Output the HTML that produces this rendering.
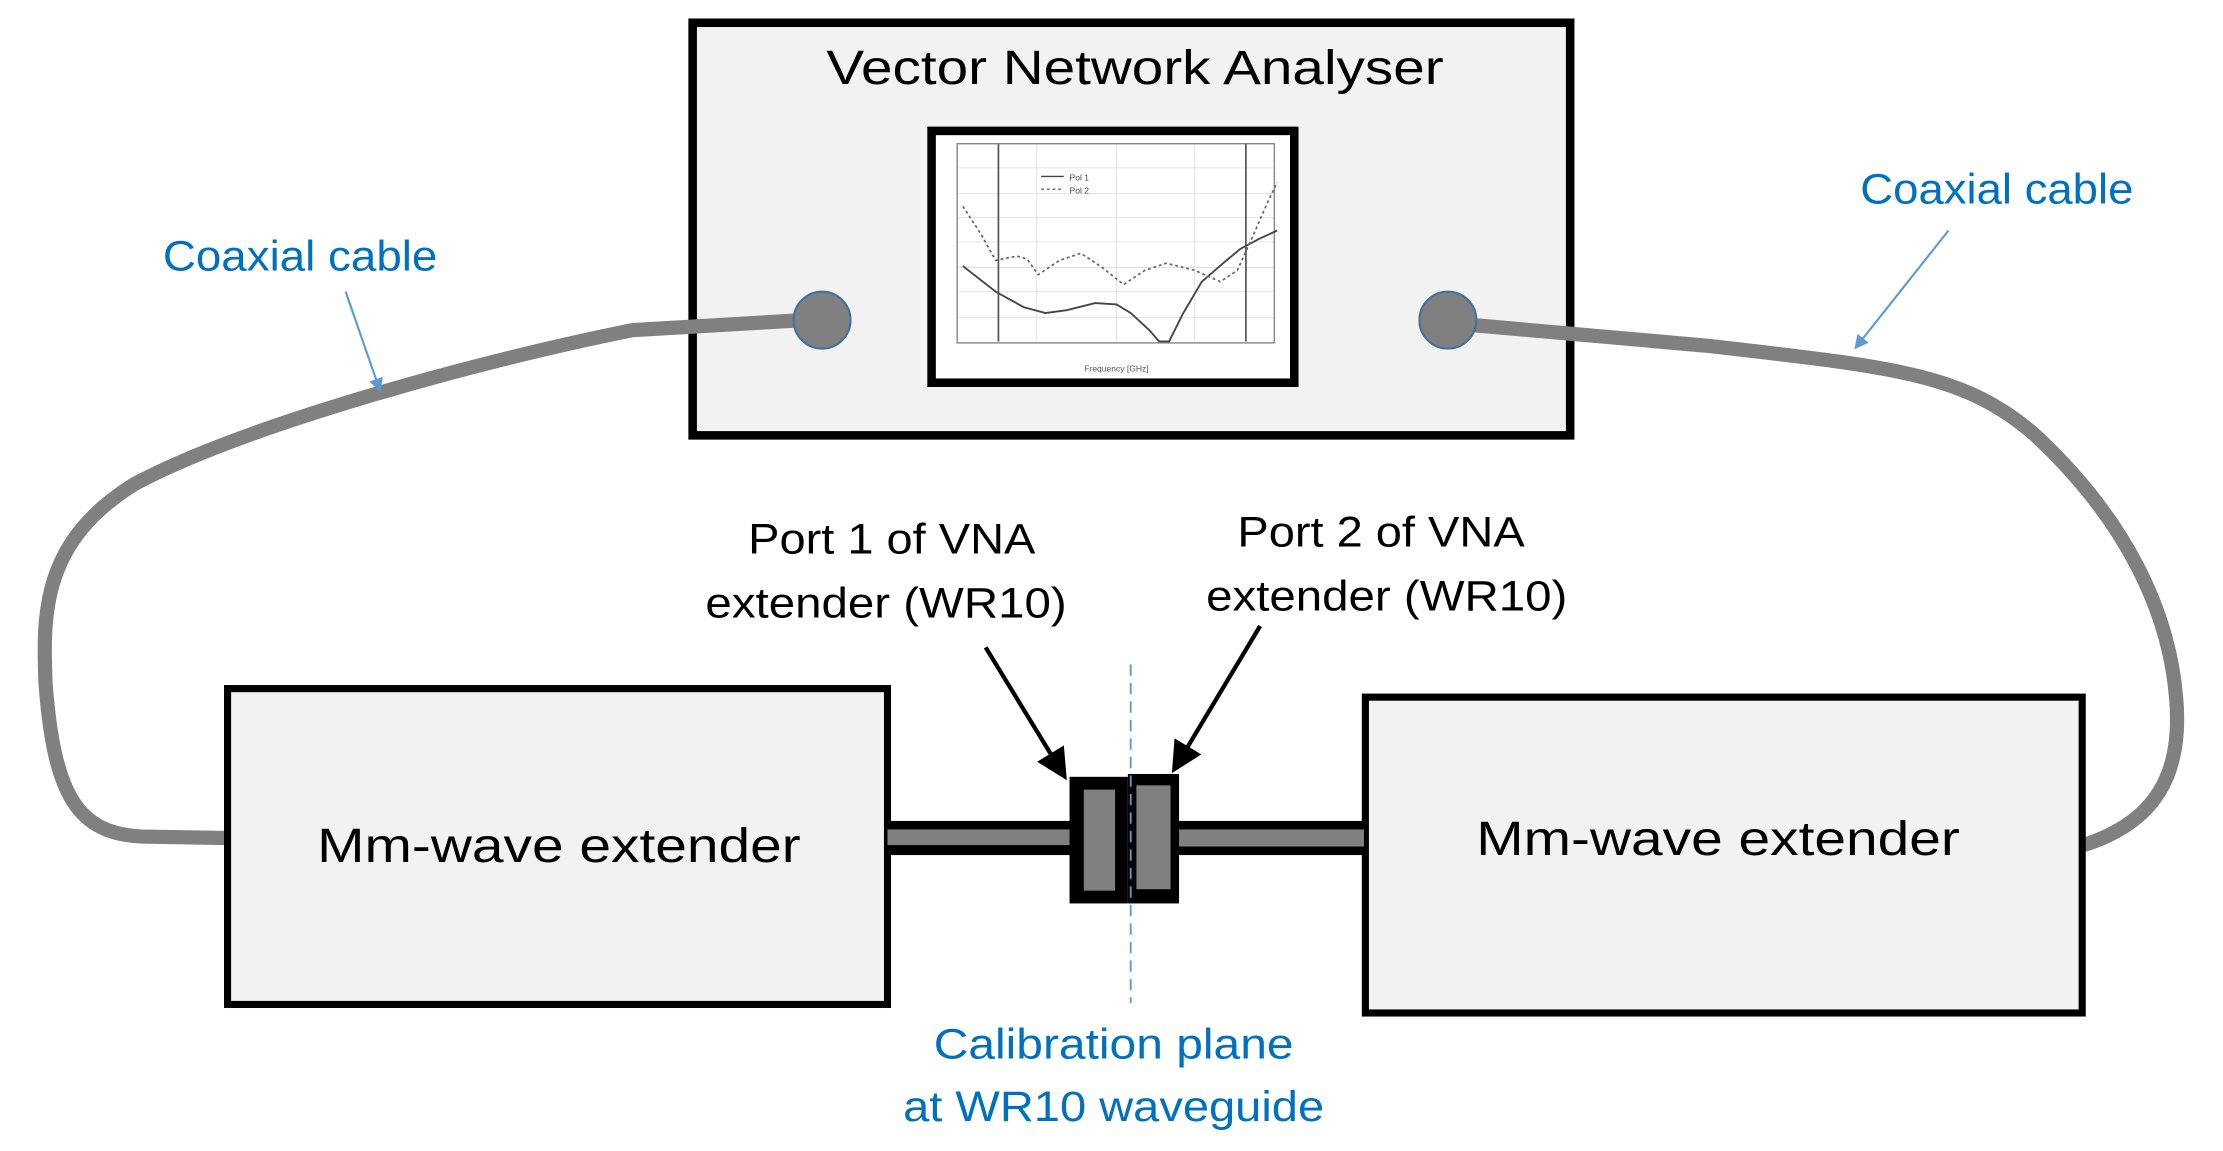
<!DOCTYPE html>
<html><head><meta charset="utf-8"><style>html,body{margin:0;padding:0;background:#fff}svg{display:block}</style></head>
<body>
<svg width="2223" height="1151" viewBox="0 0 1563 809" preserveAspectRatio="none" xmlns="http://www.w3.org/2000/svg" font-family="Liberation Sans, sans-serif">
<defs>
<marker id="ab" markerWidth="10" markerHeight="10" refX="8" refY="5" orient="auto" markerUnits="userSpaceOnUse"><path d="M0,0 L10,5 L0,10 z" fill="#5B9BD5"/></marker>
<marker id="ak" markerWidth="22" markerHeight="22" refX="18" refY="11" orient="auto" markerUnits="userSpaceOnUse"><path d="M0,0 L22,11 L0,22 z" fill="#000"/></marker>
</defs>
<!-- VNA -->
<rect x="487" y="16" width="617" height="290" fill="#f2f2f2" stroke="#000" stroke-width="6"/>
<text x="798" y="59" font-size="34" text-anchor="middle" textLength="434" lengthAdjust="spacingAndGlyphs">Vector Network Analyser</text>
<rect x="655" y="92" width="255" height="177" fill="#fff" stroke="#000" stroke-width="6"/>
<g stroke="#ddd" stroke-width="0.6">
<line x1="673" y1="118" x2="896" y2="118"/><line x1="673" y1="136" x2="896" y2="136"/><line x1="673" y1="153" x2="896" y2="153"/><line x1="673" y1="170" x2="896" y2="170"/><line x1="673" y1="188" x2="896" y2="188"/><line x1="673" y1="205" x2="896" y2="205"/><line x1="673" y1="223" x2="896" y2="223"/>
<line x1="729" y1="101" x2="729" y2="240"/><line x1="785" y1="101" x2="785" y2="240"/><line x1="840" y1="101" x2="840" y2="240"/>
</g>
<rect x="673" y="101" width="223" height="140" fill="none" stroke="#888" stroke-width="1"/>
<line x1="702" y1="101" x2="702" y2="240" stroke="#555" stroke-width="1.2"/>
<line x1="876" y1="101" x2="876" y2="240" stroke="#555" stroke-width="1.2"/>
<polyline fill="none" stroke="#444" stroke-width="1.3" points="677,187 700,205 720,216 735,220 750,218 770,213 785,214 795,220 808,232 815,240 822,240 832,220 845,198 860,185 872,175 885,168 898,162"/>
<polyline fill="none" stroke="#666" stroke-width="1.2" stroke-dasharray="2,2" points="677,145 690,165 700,183 715,180 722,182 730,193 745,183 760,178 775,188 790,200 805,190 820,185 840,190 858,198 870,190 880,168 890,145 898,128"/>
<line x1="732" y1="124" x2="748" y2="124" stroke="#444" stroke-width="1"/><text x="752" y="127" font-size="6" fill="#444">Pol 1</text>
<line x1="732" y1="133" x2="748" y2="133" stroke="#666" stroke-width="1" stroke-dasharray="2,2"/><text x="752" y="136" font-size="6" fill="#444">Pol 2</text>
<text x="785" y="261" font-size="6" fill="#555" text-anchor="middle">Frequency [GHz]</text>
<!-- cables -->
<path d="M565,225 L445,232 C330,255 170,300 95,340 C30,380 30,430 32,480 C38,560 55,586 100,588 L158,589" fill="none" stroke="#808080" stroke-width="10"/>
<path d="M1030,228 L1200,243 C1330,258 1380,262 1430,305 C1495,365 1525,430 1530,490 C1535,545 1515,578 1465,594" fill="none" stroke="#808080" stroke-width="10"/>
<circle cx="578" cy="225" r="20" fill="#808080" stroke="#41719C" stroke-width="1.5"/>
<circle cx="1018" cy="225" r="20" fill="#808080" stroke="#41719C" stroke-width="1.5"/>
<!-- extenders -->
<rect x="160" y="484" width="464" height="222" fill="#f2f2f2" stroke="#000" stroke-width="5"/>
<text x="393" y="606" font-size="34" text-anchor="middle" textLength="340" lengthAdjust="spacingAndGlyphs">Mm-wave extender</text>
<rect x="960" y="490" width="504" height="222" fill="#f2f2f2" stroke="#000" stroke-width="5"/>
<text x="1208" y="601" font-size="34" text-anchor="middle" textLength="340" lengthAdjust="spacingAndGlyphs">Mm-wave extender</text>
<!-- waveguide -->
<rect x="624" y="577" width="130" height="24" fill="#000"/><rect x="624" y="583" width="130" height="11" fill="#808080"/>
<rect x="828" y="577" width="131" height="24" fill="#000"/><rect x="828" y="583" width="131" height="12" fill="#808080"/>
<rect x="752" y="546" width="41" height="89" fill="#000"/><rect x="762" y="555" width="22" height="71" fill="#808080"/>
<rect x="793" y="544" width="36" height="91" fill="#000"/><rect x="799" y="552" width="24" height="73" fill="#808080"/>
<line x1="795" y1="467" x2="795" y2="705" stroke="#5B9BD5" stroke-width="1.3" stroke-dasharray="8,5"/>
<!-- black arrows -->
<line x1="693" y1="455" x2="748" y2="545" stroke="#000" stroke-width="3" marker-end="url(#ak)"/>
<line x1="886" y1="440" x2="826" y2="540" stroke="#000" stroke-width="3" marker-end="url(#ak)"/>
<text x="627" y="389" font-size="30" text-anchor="middle" textLength="202" lengthAdjust="spacingAndGlyphs">Port 1 of VNA</text>
<text x="623" y="434" font-size="30" text-anchor="middle" textLength="254" lengthAdjust="spacingAndGlyphs">extender (WR10)</text>
<text x="971" y="384" font-size="30" text-anchor="middle" textLength="202" lengthAdjust="spacingAndGlyphs">Port 2 of VNA</text>
<text x="975" y="429" font-size="30" text-anchor="middle" textLength="254" lengthAdjust="spacingAndGlyphs">extender (WR10)</text>
<!-- blue labels -->
<text x="211" y="190" font-size="30" fill="#0070C0" text-anchor="middle" textLength="193" lengthAdjust="spacingAndGlyphs">Coaxial cable</text>
<text x="1404" y="143" font-size="30" fill="#0070C0" text-anchor="middle" textLength="192" lengthAdjust="spacingAndGlyphs">Coaxial cable</text>
<line x1="243" y1="205" x2="267" y2="274" stroke="#5B9BD5" stroke-width="1.5" marker-end="url(#ab)"/>
<line x1="1370" y1="162" x2="1305" y2="244" stroke="#5B9BD5" stroke-width="1.5" marker-end="url(#ab)"/>
<text x="783" y="744" font-size="30" fill="#0070C0" text-anchor="middle" textLength="253" lengthAdjust="spacingAndGlyphs">Calibration plane</text>
<text x="783" y="788" font-size="30" fill="#0070C0" text-anchor="middle" textLength="296" lengthAdjust="spacingAndGlyphs">at WR10 waveguide</text>
</svg>
</body></html>
